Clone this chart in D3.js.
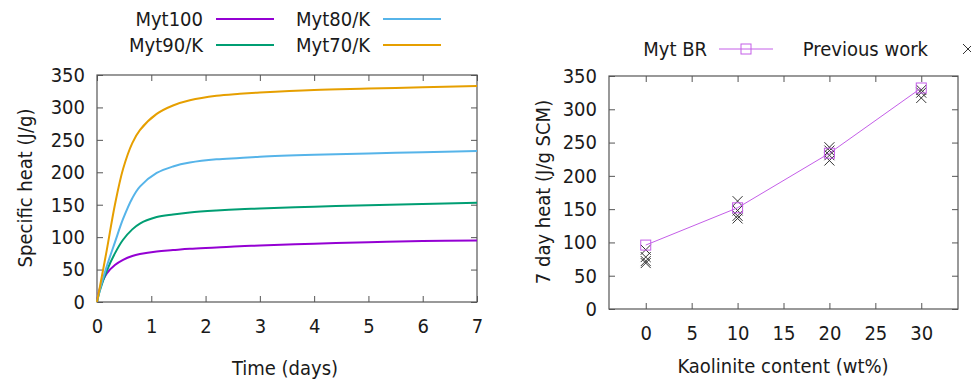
<!DOCTYPE html>
<html>
<head>
<meta charset="utf-8">
<script src="https://cdn.jsdelivr.net/npm/d3@7"></script>
<style>
  body { margin: 0; background: #fff; }
  svg text { font-family: Tahoma, 'DejaVu Sans Condensed', 'Liberation Sans', sans-serif; fill: #1a1a1a; }
</style>
</head>
<body>
<svg width="971" height="382"></svg>
<script>
// ---- left panel data: heat curves ----
var timeDays = [0, 0.05, 0.18, 0.33, 0.48, 0.65, 0.79, 1.1, 1.4, 1.71, 2.2, 2.63, 3, 4, 5, 6, 7];
var myt100  = [0, 20, 44, 57, 65, 71, 74, 78, 80, 82, 84, 86, 87, 90, 92, 94, 95];
var myt90K  = [0, 17, 48, 75, 96, 112, 121, 131, 135, 138, 141, 143, 144, 147, 149, 151, 153];
var myt80K  = [0, 18, 55, 92, 128, 160, 178, 199, 209, 215, 220, 222, 224, 227, 229, 231, 233];
var myt70K  = [0, 22, 80, 150, 205, 245, 265, 290, 303, 311, 318, 321, 323, 327, 329, 331, 333];
var timeTicks = [0, 1, 2, 3, 4, 5, 6, 7];
var heatTicks = [0, 50, 100, 150, 200, 250, 300, 350];

// ---- right panel data: 7 day heat ----
var kaolinite = [0, 10, 20, 30];
var mytBR = [96, 152, 234, 332];
var prevX = [0, 0, 0, 0, 10, 10, 10, 10, 20, 20, 20, 20, 30, 30, 30];
var prevY = [89, 78, 72, 69, 162, 148, 140, 136, 243, 238, 231, 223, 329, 325, 317];
var kaoTicks = [0, 5, 10, 15, 20, 25, 30];

var svg = d3.select('svg');
var frameColor = '#555';

function frameAxes(g, x, y, xt, yt) {
   var x0 = x.range()[0], x1 = x.range()[1];
   var y0 = y.range()[0], y1 = y.range()[1];

   // bottom + left with labels, ticks pointing inwards
   g.append('g').attr('transform', 'translate(0,' + y0 + ')')
      .call(d3.axisBottom(x).tickValues(xt).tickFormat(d3.format('d'))
         .tickSizeInner(-6).tickSizeOuter(0).tickPadding(17));
   g.append('g').attr('transform', 'translate(' + x0 + ',0)')
      .call(d3.axisLeft(y).tickValues(yt).tickFormat(d3.format('d'))
         .tickSizeInner(-6).tickSizeOuter(0).tickPadding(12));
   // mirrored ticks, no labels
   g.append('g').attr('transform', 'translate(0,' + y1 + ')')
      .call(d3.axisTop(x).tickValues(xt).tickSizeInner(-6).tickSizeOuter(0).tickFormat(''));
   g.append('g').attr('transform', 'translate(' + x1 + ',0)')
      .call(d3.axisRight(y).tickValues(yt).tickSizeInner(-6).tickSizeOuter(0).tickFormat(''));

   g.selectAll('.domain').remove();
   g.selectAll('.tick line').attr('stroke', frameColor);
   g.selectAll('.tick text').style('font-size', '20px').attr('fill', '#1a1a1a');

   g.append('rect')
      .attr('x', x0).attr('y', y1)
      .attr('width', x1 - x0).attr('height', y0 - y1)
      .attr('fill', 'none').attr('stroke', frameColor).attr('stroke-width', 1.2);
}

// ================= left panel =================
var xL = d3.scaleLinear().domain([0, 7]).range([97, 477]);
var yL = d3.scaleLinear().domain([0, 350]).range([302, 75]);
var left = svg.append('g');
frameAxes(left, xL, yL, timeTicks, heatTicks);

var curves = [
   { name: 'Myt100', vals: myt100, color: '#9400d3' },
   { name: 'Myt90/K', vals: myt90K, color: '#009e73' },
   { name: 'Myt80/K', vals: myt80K, color: '#56b4e9' },
   { name: 'Myt70/K', vals: myt70K, color: '#e69f00' }
];

var line = d3.line()
   .x(function(d, i) { return xL(timeDays[i]); })
   .y(function(d) { return yL(d); })
   .curve(d3.curveCatmullRom.alpha(0.5));

left.selectAll('path.curve')
   .data(curves)
   .enter()
   .append('path')
   .attr('class', 'curve')
   .attr('d', function(d) { return line(d.vals); })
   .attr('fill', 'none')
   .attr('stroke', function(d) { return d.color; })
   .attr('stroke-width', 2);

// legend, 2 x 2 like gnuplot
var legL = [
   { name: 'Myt100', color: '#9400d3', tx: 203, y: 19 },
   { name: 'Myt90/K', color: '#009e73', tx: 203, y: 45 },
   { name: 'Myt80/K', color: '#56b4e9', tx: 370, y: 19 },
   { name: 'Myt70/K', color: '#e69f00', tx: 370, y: 45 }
];
var li = left.selectAll('g.leg').data(legL).enter().append('g').attr('class', 'leg');
li.append('text')
   .attr('x', function(d) { return d.tx; })
   .attr('y', function(d) { return d.y; })
   .attr('dy', '0.35em')
   .attr('text-anchor', 'end')
   .style('font-size', '20px')
   .text(function(d) { return d.name; });
li.append('line')
   .attr('x1', function(d) { return d.tx + 13; })
   .attr('x2', function(d) { return d.tx + 71; })
   .attr('y1', function(d) { return d.y; })
   .attr('y2', function(d) { return d.y; })
   .attr('stroke', function(d) { return d.color; })
   .attr('stroke-width', 2);

left.append('text')
   .attr('transform', 'translate(25,188) rotate(-90)')
   .attr('text-anchor', 'middle').attr('dy', '0.35em')
   .style('font-size', '20px')
   .text('Specific heat (J/g)');
left.append('text')
   .attr('x', 285).attr('y', 368)
   .attr('text-anchor', 'middle').attr('dy', '0.35em')
   .style('font-size', '20px')
   .text('Time (days)');

// ================= right panel =================
var xR = d3.scaleLinear().domain([-4, 34]).range([609, 958]);
var yR = d3.scaleLinear().domain([0, 350]).range([309, 76]);
var right = svg.append('g');
frameAxes(right, xR, yR, kaoTicks, heatTicks);

var brColor = '#c45ee8';

// previous work crosses
right.selectAll('path.prev')
   .data(prevY)
   .enter()
   .append('path')
   .attr('class', 'prev')
   .attr('d', 'M-5,-5L5,5M-5,5L5,-5')
   .attr('transform', function(d, i) { return 'translate(' + xR(prevX[i]) + ',' + yR(d) + ')'; })
   .attr('stroke', '#333')
   .attr('stroke-width', 1)
   .attr('fill', 'none');

// Myt BR line + open squares
var brLine = d3.line()
   .x(function(d, i) { return xR(kaolinite[i]); })
   .y(function(d) { return yR(d); });
right.append('path')
   .attr('d', brLine(mytBR))
   .attr('fill', 'none')
   .attr('stroke', brColor)
   .attr('stroke-width', 1);
right.selectAll('rect.br')
   .data(mytBR)
   .enter()
   .append('rect')
   .attr('class', 'br')
   .attr('x', function(d, i) { return xR(kaolinite[i]) - 5; })
   .attr('y', function(d) { return yR(d) - 5; })
   .attr('width', 10).attr('height', 10)
   .attr('fill', 'none')
   .attr('stroke', brColor)
   .attr('stroke-width', 1);

// legend
right.append('text')
   .attr('x', 707).attr('y', 49).attr('dy', '0.35em')
   .attr('text-anchor', 'end')
   .style('font-size', '20px')
   .text('Myt BR');
right.append('line')
   .attr('x1', 719).attr('x2', 773).attr('y1', 49).attr('y2', 49)
   .attr('stroke', brColor).attr('stroke-width', 1);
right.append('rect')
   .attr('x', 741).attr('y', 44).attr('width', 10).attr('height', 10)
   .attr('fill', 'none').attr('stroke', brColor);
right.append('text')
   .attr('x', 928).attr('y', 49).attr('dy', '0.35em')
   .attr('text-anchor', 'end')
   .style('font-size', '20px')
   .text('Previous work');
right.append('path')
   .attr('d', 'M-5,-5L5,5M-5,5L5,-5')
   .attr('transform', 'translate(968,49)')
   .attr('stroke', '#333').attr('fill', 'none');

right.append('text')
   .attr('transform', 'translate(543,192) rotate(-90)')
   .attr('text-anchor', 'middle').attr('dy', '0.35em')
   .style('font-size', '20px')
   .text('7 day heat (J/g SCM)');
right.append('text')
   .attr('x', 783).attr('y', 366)
   .attr('text-anchor', 'middle').attr('dy', '0.35em')
   .style('font-size', '20px')
   .text('Kaolinite content (wt%)');
</script>
</body>
</html>
